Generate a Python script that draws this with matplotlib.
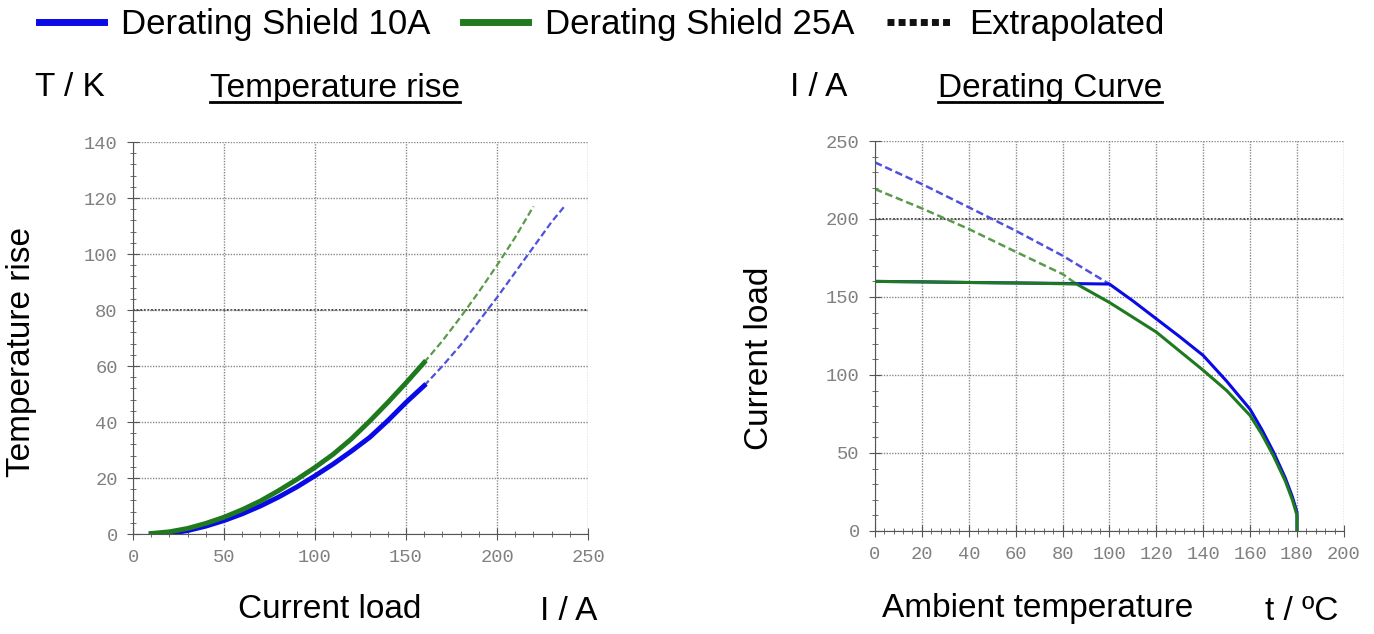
import numpy as np
import matplotlib
matplotlib.use("Agg")
import matplotlib.pyplot as plt
from matplotlib.lines import Line2D

# Temperature rise (left)
rise_I = [10, 20, 30, 40, 50, 60, 70, 80, 90, 100, 110, 120, 130, 140, 150, 160]
rise_10A = [0, 0.2, 1.2, 2.8, 4.8, 7.2, 10, 13.2, 16.8, 20.8, 25, 29.6, 34.5, 40.5, 47, 53]
rise_25A = [0.2, 0.8, 2, 3.8, 6, 8.7, 11.8, 15.5, 19.5, 23.8, 28.5, 34, 40.3, 47, 54, 61.3]
ext_I_10A = [160, 170, 180, 190, 200, 210, 220, 230, 237]
ext_T_10A = [53, 60, 67.5, 76, 84.5, 93.5, 102.5, 111.5, 117]
ext_I_25A = [160, 170, 180, 190, 200, 210, 220]
ext_T_25A = [61.3, 69, 77.5, 86.5, 96, 106, 117]

# Derating curve (right)
der_t_10A = [0, 20, 40, 60, 80, 100, 110, 120, 130, 140, 150, 160, 165, 170, 175, 178, 180, 180]
der_I_10A = [160, 159.7, 159.3, 159, 158.7, 158.3, 147.5, 136, 124.5, 112.5, 96, 78, 65, 50.5, 34, 22, 12, 0]
der_t_25A = [0, 20, 40, 60, 80, 86, 100, 120, 140, 150, 160, 165, 170, 175, 178, 180, 180]
der_I_25A = [160, 159.7, 159.3, 159, 158.5, 158.3, 146.5, 127.5, 103, 90, 74, 62, 48, 32, 20, 10, 0]
dext_t_10A = [0, 20, 40, 60, 80, 100]
dext_I_10A = [236.3, 222.4, 207.5, 192.5, 176.5, 158.3]
dext_t_25A = [0, 20, 40, 60, 80, 86]
dext_I_25A = [219.2, 206.8, 193.6, 179, 164.7, 158.3]

BLUE = "#0a0ae6"
GREEN = "#1f7a1f"
LBLUE = "#5050e0"
LGREEN = "#5a9a4a"

plt.rcParams['font.family'] = ['Liberation Sans', 'DejaVu Sans']

fig = plt.figure(figsize=(13.74, 6.34), dpi=100)
ax1 = fig.add_axes([0.0968, 0.1577, 0.3312, 0.6183])
ax2 = fig.add_axes([0.6368, 0.1625, 0.3413, 0.6151])


def style(ax, xmax, xmaj, xmin, ymax, ymaj, ymin, dark):
    ax.set_xlim(0, xmax)
    ax.set_ylim(0, ymax)
    ax.set_xticks(np.arange(0, xmax + 1, xmaj))
    ax.set_xticks(np.arange(0, xmax + 1, xmin), minor=True)
    ax.set_yticks(np.arange(0, ymax + 1, ymaj))
    ax.set_yticks(np.arange(0, ymax + 1, ymin), minor=True)
    ax.grid(True, which='major', color='#8a8a8a', linestyle=(0, (1, 1)), linewidth=1.0)
    ax.axhline(dark, color='#333333', linestyle=(0, (1, 1)), linewidth=1.3, zorder=1)
    for s in ['top', 'right']:
        ax.spines[s].set_visible(False)
    for s in ['left', 'bottom']:
        ax.spines[s].set_color('#555555')
    ax.tick_params(which='major', direction='inout', length=8, color='#555555',
                   labelcolor='#808080', labelsize=13.5, pad=7)
    ax.tick_params(which='minor', direction='inout', length=4, color='#555555')
    for lab in ax.get_xticklabels() + ax.get_yticklabels():
        lab.set_family(['Liberation Mono', 'DejaVu Sans Mono'])


style(ax1, 250, 50, 10, 140, 20, 4, 80)
style(ax2, 200, 20, 4, 250, 50, 10, 200)

ax1.plot(ext_I_10A, ext_T_10A, color=LBLUE, linestyle=(0, (3, 1.5)), linewidth=1.6)
ax1.plot(ext_I_25A, ext_T_25A, color=LGREEN, linestyle=(0, (3, 1.5)), linewidth=1.6)
ax1.plot(rise_I, rise_10A, color=BLUE, linewidth=3.5)
ax1.plot(rise_I, rise_25A, color=GREEN, linewidth=3.5)

ax2.plot(dext_t_10A, dext_I_10A, color=LBLUE, linestyle=(0, (3, 1.5)), linewidth=1.8)
ax2.plot(dext_t_25A, dext_I_25A, color=LGREEN, linestyle=(0, (3, 1.5)), linewidth=1.8)
ax2.plot(der_t_10A, der_I_10A, color=BLUE, linewidth=2.2)
ax2.plot(der_t_25A, der_I_25A, color=GREEN, linewidth=2.2)

# legend across the top
handles = [Line2D([], [], color=BLUE, linewidth=5),
           Line2D([], [], color=GREEN, linewidth=5),
           Line2D([], [], color='#111111', linewidth=5, linestyle=(0, (1, 0.6)))]
fig.legend(handles, ['Derating Shield 10A', 'Derating Shield 25A', 'Extrapolated'],
           loc='upper left', bbox_to_anchor=(0.006, 1.037), ncol=3, frameon=False,
           fontsize=25, handlelength=1.85, handletextpad=0.5, columnspacing=0.95)

fs = 24
fig.text(35 / 1374, 1 - 88 / 634, 'T / K', fontsize=fs, va='center', ha='left')
fig.text(790 / 1374, 1 - 88 / 634, 'I / A', fontsize=fs, va='center', ha='left')
t1 = fig.text(210 / 1374, 1 - 88 / 634, 'Temperature rise', fontsize=fs, va='center', ha='left')
t2 = fig.text(938 / 1374, 1 - 88 / 634, 'Derating Curve', fontsize=fs, va='center', ha='left')
fig.text(330 / 1374, 1 - 610 / 634, 'Current load', fontsize=fs, va='center', ha='center')
fig.text(540 / 1374, 1 - 612 / 634, 'I / A', fontsize=fs, va='center', ha='left')
fig.text(1038 / 1374, 1 - 608 / 634, 'Ambient temperature', fontsize=fs, va='center', ha='center')
fig.text(1265 / 1374, 1 - 612 / 634, 't / ºC', fontsize=fs, va='center', ha='left')
fig.text(22 / 1374, 1 - 352 / 634, 'Temperature rise', fontsize=fs, va='center', ha='center', rotation=90)
fig.text(760 / 1374, 1 - 358 / 634, 'Current load', fontsize=fs, va='center', ha='center', rotation=90)

# underline the two titles
renderer = fig.canvas.get_renderer()
for t in (t1, t2):
    bb = t.get_window_extent(renderer).transformed(fig.transFigure.inverted())
    fig.add_artist(Line2D([bb.x0, bb.x1], [bb.y0 + 0.002, bb.y0 + 0.002],
                          color='black', linewidth=2, transform=fig.transFigure))

fig.savefig('out.png', dpi=100)
